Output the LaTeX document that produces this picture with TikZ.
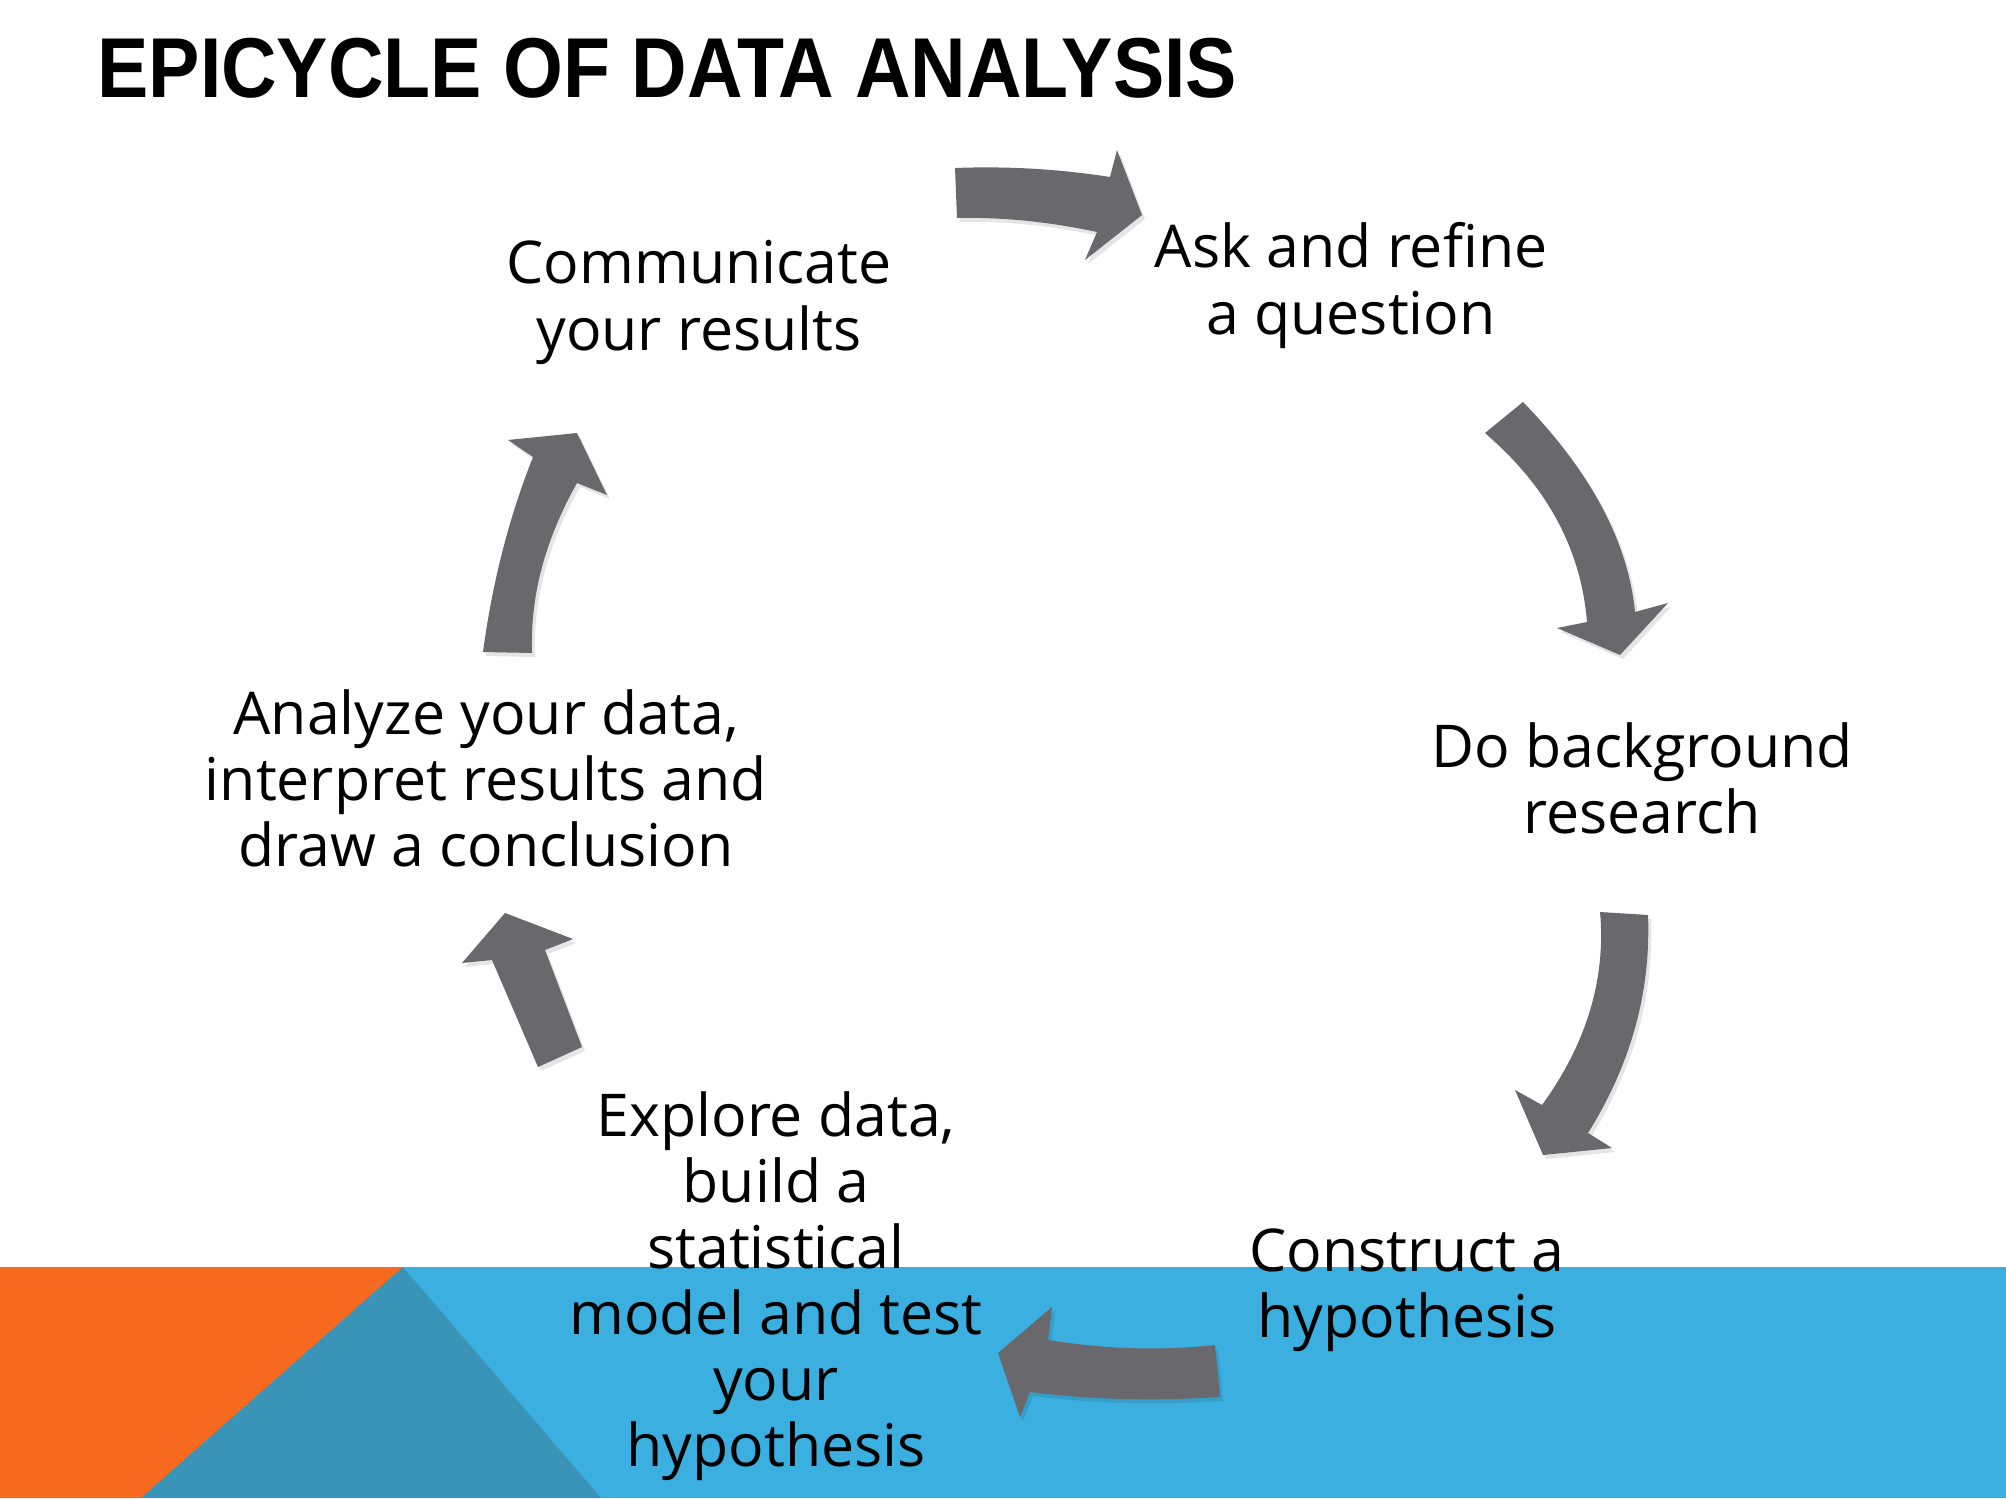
\documentclass[tikz,border=0pt]{standalone}
\usepackage{fontspec}
\setmainfont{Open Sans}
\newfontfamily\titlefont{Liberation Sans}
\definecolor{bandblue}{RGB}{59,176,224}
\definecolor{bandteal}{RGB}{58,148,184}
\definecolor{bandorange}{RGB}{247,105,30}
\definecolor{arrowgray}{RGB}{104,104,109}
\tikzset{
  lbl/.style={font=\fontsize{29.5pt}{33pt}\selectfont, align=center, inner sep=0pt, anchor=base, text=black},
  blockarrow/.style={fill=arrowgray, draw=none},
  arrowshadow/.style={fill=black, fill opacity=0.10, draw=none, xshift=1.5pt, yshift=-2pt}
}
\begin{document}
\begin{tikzpicture}[x=0.5pt,y=-0.5pt]
\useasboundingbox (0,0) rectangle (2006,1498);
\fill[white] (0,0) rectangle (2006,1498);
% bottom band
\fill[bandblue] (0,1267) rectangle (2006,1498);
\fill[bandorange] (0,1267) -- (403,1267) -- (141,1498) -- (0,1498) -- cycle;
\fill[bandteal] (403,1267) -- (601,1498) -- (141,1498) -- cycle;
% title
\node[font=\titlefont\bfseries\fontsize{42.5pt}{48pt}\selectfont, anchor=base west, inner sep=0pt] (title) at (97,98) {\scalebox{0.905}[1]{EPICYCLE OF DATA ANALYSIS}};
% arrows
\def\arrowA{(955,168) .. controls (1007,166) and (1059,169) .. (1110,177) -- (1117,150) -- (1142,215) -- (1085,260) -- (1097,232) .. controls (1050,222) and (1004,217) .. (957,218) -- cycle}
\def\arrowB{(1485,433) -- (1523,402) .. controls (1591,472) and (1628,542) .. (1635,612) -- (1668,603) -- (1620,655) -- (1557,628) -- (1587,622) .. controls (1581,549) and (1547,486) .. (1485,433) -- cycle}
\def\arrowC{(1600,912) -- (1648,915) .. controls (1651,992) and (1631,1064) .. (1588,1133) -- (1612,1148) -- (1543,1155) -- (1515,1090) -- (1542,1105) .. controls (1587,1043) and (1606,978) .. (1600,912) -- cycle}
\def\arrowD{(1215,1345) .. controls (1160,1351) and (1104,1349) .. (1048,1340) -- (1052,1307) -- (998,1353) -- (1020,1417) -- (1030,1392) .. controls (1093,1400) and (1157,1401) .. (1220,1397) -- cycle}
\def\arrowE{(582,1047) -- (545,950) -- (573,939) -- (505,913) -- (462,963) -- (492,960) -- (538,1067) -- cycle}
\def\arrowF{(483,652) .. controls (492,585) and (508,520) .. (533,457) -- (508,440) -- (577,433) -- (607,495) -- (577,483) .. controls (545,540) and (530,596) .. (532,653) -- cycle}
\foreach \p in {\arrowA,\arrowB,\arrowC,\arrowD,\arrowE,\arrowF}{
  \fill[arrowshadow] \p;
  \fill[blockarrow] \p;
}
% labels (anchor=base is the baseline of the last line)
\node[lbl] (communicate) at (699,350) {Communicate\\your results};
\node[lbl] (ask) at (1351,334) {Ask and refine\\a question};
\node[lbl] (background) at (1642,833) {Do background\\research};
\node[lbl] (construct) at (1407,1337) {Construct a\\hypothesis};
\node[lbl] (explore) at (776,1466) {Explore data,\\build a\\statistical\\model and test\\your\\hypothesis};
\node[lbl] (analyze) at (486,866) {Analyze your data,\\interpret results and\\draw a conclusion};
\end{tikzpicture}
\end{document}
